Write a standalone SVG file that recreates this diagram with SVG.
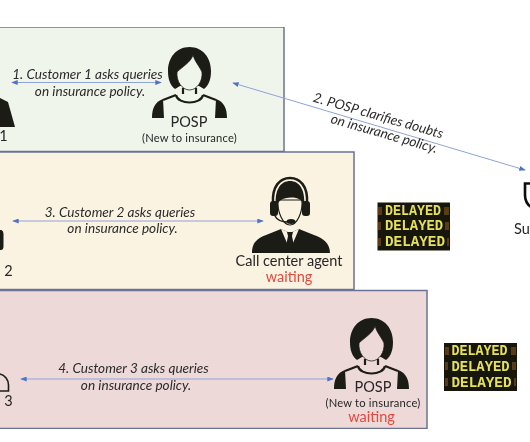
<svg xmlns="http://www.w3.org/2000/svg" width="530" height="442" viewBox="0 0 530 442">
<style>
text{font-family:"Lato","Noto Sans",sans-serif;fill:#262626}
.q{font-size:13.6px;font-style:italic;text-anchor:middle;fill:#2b2b2b}
.l{font-size:14.5px;text-anchor:middle}
.s{font-size:11.2px;text-anchor:middle;letter-spacing:.2px}
.w{font-size:14.500px;text-anchor:middle;fill:#e5483c}
.p{stroke:#6a7396;stroke-width:1.5}
.a{stroke:#8ea3d6;stroke-width:1;fill:none;marker-start:url(#h);marker-end:url(#h)}
.d{fill:#1d1d17}
.b{font-family:"Liberation Mono",monospace;font-weight:700;font-size:14px;fill:#e6e05a}
</style>
<defs>
<filter id="soft" x="0" y="0" width="100%" height="100%"><feGaussianBlur stdDeviation="0.35"/></filter>
<marker id="h" viewBox="0 0 8 6" refX="7" refY="3" markerWidth="6.5" markerHeight="5" markerUnits="userSpaceOnUse" orient="auto-start-reverse"><path d="M0,0L8,3L0,6Z" fill="#4f73c4"/></marker>
<g id="posp">
<path class="d" d="M189.5,47C176,47 168,58 168,71C168,79 170,85 175,89L180,86L199,86L204,89C209,85 211,79 211,71C211,58 203,47 189.5,47Z"/>
<path stroke="#1d1d17" stroke-width=".8" d="M177,72C182,67 191,62 193,55C195,62 200,67 202,72C203,81 197,90 189.5,90C182,90 176,81 177,72Z"/>
<path fill="none" stroke="#1d1d17" stroke-width="2.2" d="M183,88V94M196,88V94M176,95C178,105 201,105 203,95M176,95L163,100M203,95L216,100"/>
<path class="d" d="M163,99C155,102 152,108 152,118H164ZM216,99C224,102 227,108 227,118H215Z"/>
</g>
</defs>
<g filter="url(#soft)">
<rect id="panel-1" class="p" x="-2" y="27" width="286" height="124.500" fill="#f0f5ec"/>
<rect id="panel-2" class="p" x="-2" y="152" width="356" height="137.500" fill="#fbf3e2"/>
<rect id="panel-3" class="p" x="-2" y="290.500" width="429" height="138" fill="#eed9d9"/>
<g id="connectors">
<path class="a" d="M12,82.500H161"/>
<path class="a" d="M233,83L525,170"/>
<path class="a" d="M13,221H263"/>
<path class="a" d="M21,379H333"/>
</g>
<g id="customer-1"><path class="d" d="M0,98L8,102L15,127H0Z"/><text class="l" x="3.500" y="141">1</text></g>
<g id="customer-2"><path class="d" d="M0,230H1.500Q3.500,231 3.500,234V246Q3.500,250 1,250H0Z"/><text class="l" x="8.500" y="276">2</text></g>
<g id="customer-3"><path fill="none" stroke="#1d1d17" stroke-width="1.6" d="M0,374C5,375 8.500,380 8.500,385V391H0"/><text class="l" x="8.500" y="406">3</text></g>
<g id="posp-1"><use href="#posp" fill="#f0f5ec"/><text class="l" x="189" y="127">POSP</text><text class="s" x="189.500" y="142">(New to insurance)</text></g>
<g id="agent">
<path class="d" d="M252,253C252,243 257,238 266,235L281,229L290,233L299,229L314,235C323,238 330,243 330,253Z"/>
<path fill="#fbf3e2" d="M281,229L290,250L299,229L290,233Z"/>
<path class="d" d="M287,232H293L292,236L294,246L290,251L286,246L288,236Z"/>
<path stroke="#1d1d17" stroke-width="1.200" fill="#fbf3e2" d="M278,200C277,212 283,225 290,225C297,225 303,212 302,200Z"/>
<path class="d" d="M276,208C274,189 281,181 290,181C299,181 306,189 304,208C303,202 301,199 296,198C290,197 284,198 281,200C278,202 278,204 276,208Z"/>
<path fill="none" stroke="#1d1d17" stroke-width="2.500" d="M273,203C272,186 280,178 290,178C300,178 308,186 307,203"/>
<rect class="d" x="270" y="201" width="8" height="15" rx="3"/><rect class="d" x="302" y="201" width="8" height="15" rx="3"/>
<path fill="none" stroke="#1d1d17" stroke-width="1.500" d="M275,216C277,220 282,222 288,222"/>
<ellipse class="d" cx="291" cy="221.500" rx="4.500" ry="2.500"/>
<text class="l" x="289" y="266">Call center agent</text><text class="w" x="289" y="282">waiting</text>
</g>
<g id="posp-2"><use href="#posp" fill="#eed9d9" transform="translate(182,271)"/><text class="l" x="373" y="392">POSP</text><text class="s" x="373" y="407">(New to insurance)</text><text class="w" x="371.500" y="422">waiting</text></g>
<g id="surveyor"><path fill="none" stroke="#111" stroke-width="2.600" d="M531,183.500H525V195C525,201 528,205 531,207"/><text x="514" y="234" style="font-size:14.5px">Su</text></g>
<g id="labels">
<text class="q" x="87.500" y="79">1. Customer 1 asks queries</text><text class="q" x="90" y="96">on insurance policy.</text>
<g transform="rotate(16 377 120)"><text class="q" x="377" y="120">2. POSP clarifies doubts</text></g>
<g transform="rotate(16 383 138)"><text class="q" x="383" y="138">on insurance policy.</text></g>
<text class="q" x="120" y="217">3. Customer 2 asks queries</text><text class="q" x="122.500" y="233">on insurance policy.</text>
<text class="q" x="133.500" y="373">4. Customer 3 asks queries</text><text class="q" x="136" y="390">on insurance policy.</text>
</g>
<g id="delayed-1">
<rect x="377.500" y="202.500" width="72.500" height="48" fill="#14140a"/>
<path fill="#5a3a14" d="M378,207h4v8h-4zM378,222h3v8h-3zM378,238h3v8h-3zM444,207h5v8h-5zM445,222h4v8h-4zM447,238h2v8h-2z"/>
<text class="b" x="385" y="214.500" textLength="56" lengthAdjust="spacingAndGlyphs">DELAYED</text>
<text class="b" x="385" y="229.500" textLength="58" lengthAdjust="spacingAndGlyphs">DELAYED</text>
<text class="b" x="385" y="245.500" textLength="60" lengthAdjust="spacingAndGlyphs">DELAYED</text>
</g>
<g id="delayed-2">
<rect x="444" y="343" width="73" height="48" fill="#14140a"/>
<path fill="#5a3a14" d="M445,347h4v8h-4zM445,362h3v8h-3zM445,378h3v8h-3zM511,347h5v8h-5zM512,362h4v8h-4zM514,378h2v8h-2z"/>
<text class="b" x="451.500" y="354.500" textLength="56" lengthAdjust="spacingAndGlyphs">DELAYED</text>
<text class="b" x="451.500" y="370.500" textLength="58" lengthAdjust="spacingAndGlyphs">DELAYED</text>
<text class="b" x="451.500" y="386.500" textLength="60" lengthAdjust="spacingAndGlyphs">DELAYED</text>
</g>
</g>
</svg>
